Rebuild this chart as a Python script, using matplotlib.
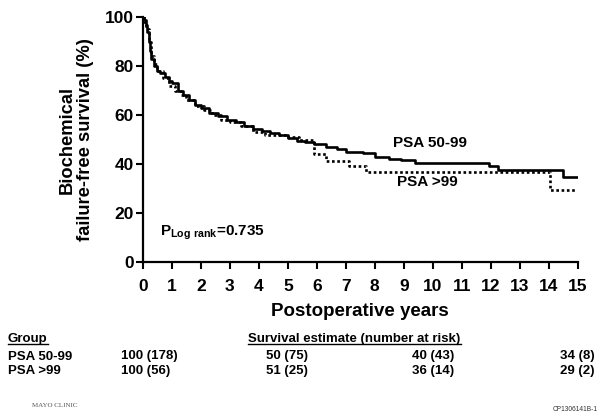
import matplotlib
matplotlib.use("Agg")
import matplotlib.pyplot as plt
from matplotlib.lines import Line2D

plt.rcParams['font.family'] = ['Liberation Sans', 'DejaVu Sans']

# Kaplan-Meier style curves
t_low = [0, 0.05, 0.1, 0.15, 0.2, 0.25, 0.3, 0.4, 0.5, 0.6, 0.75, 0.9, 1.0, 1.2, 1.4, 1.6,
         1.8, 2.0, 2.3, 2.6, 2.9, 3.2, 3.5, 3.8, 4.1, 4.4, 4.7, 5.0, 5.3, 5.6, 5.9, 6.3,
         6.7, 7.0, 7.6, 8.0, 8.5, 8.9, 9.4, 11.95, 12.25, 14.5, 15.0]
s_low = [100, 99, 97, 94, 90, 86, 83, 80, 78, 77, 75.5, 74, 73, 70, 68, 66,
         64, 63, 61, 59.5, 58, 57, 55.5, 54.5, 53.5, 52.5, 52, 50.5, 49.5, 49, 48, 47,
         46, 45, 44.4, 43, 42.2, 41.6, 40.5, 39, 37.5, 34.8, 34.8]

t_high = [0, 0.05, 0.12, 0.2, 0.3, 0.4, 0.5, 0.7, 0.9, 1.1, 1.3, 1.5, 1.8, 2.1, 2.4,
          2.7, 3.0, 3.4, 3.8, 4.2, 4.6, 5.0, 5.4, 5.9, 6.3, 7.1, 7.7, 14.05, 14.95]
s_high = [100, 98, 95, 90, 84, 81, 78, 75, 72, 70, 68, 66, 63.5, 62, 60,
          58, 57, 55.5, 53, 52, 52, 51, 50, 44, 41.2, 39, 36.9, 29.4, 29.4]

x_ticks = list(range(0, 16))
y_ticks = [0, 20, 40, 60, 80, 100]

groups = ["PSA 50-99", "PSA >99"]
risk_low = ["100 (178)", "50 (75)", "40 (43)", "34 (8)"]
risk_high = ["100 (56)", "51 (25)", "36 (14)", "29 (2)"]

fig = plt.figure(figsize=(6, 4.19), dpi=100)
ax = fig.add_axes([0.238, 0.375, 0.725, 0.584])

ax.step(t_low, s_low, where='post', color='black', lw=1.9)
ax.step(t_high, s_high, where='post', color='black', lw=1.9, linestyle=(0, (1, 1)))

ax.set_xlim(0, 15)
ax.set_ylim(0, 100)
ax.set_xticks(x_ticks)
ax.set_yticks(y_ticks)
for s in ['top', 'right']:
    ax.spines[s].set_visible(False)
for s in ['left', 'bottom']:
    ax.spines[s].set_linewidth(1.6)
ax.tick_params(width=1.5, length=5, labelsize=12.5)
ax.tick_params(axis='x', pad=7)
ax.tick_params(axis='y', pad=1.5)
for lab in ax.get_xticklabels() + ax.get_yticklabels():
    lab.set_fontweight('bold')

ax.set_ylabel("Biochemical\nfailure-free survival (%)", fontsize=13.2,
              fontweight='bold', labelpad=8, linespacing=1.1)
ax.set_xlabel("Postoperative years", fontsize=13.5, fontweight='bold', labelpad=7)

ax.text(9.9, 48.5, "PSA 50-99", fontsize=11, fontweight='bold', ha='center', va='center')
ax.text(9.8, 32.5, "PSA >99", fontsize=11, fontweight='bold', ha='center', va='center')
ax.text(0.6, 12, r"P$_{\mathregular{Log\ rank}}$=0.735", fontsize=11, fontweight='bold',
        va='center')

# number-at-risk table
tfont = dict(fontsize=9.5, fontweight='bold')
fig.text(8 / 600, 1 - 339 / 419, "Group", va='center', **tfont)
fig.text(354.5 / 600, 1 - 339 / 419, "Survival estimate (number at risk)", ha='center',
         va='center', **tfont)
row_y = [1 - 356.5 / 419, 1 - 371 / 419]
col_x = [121, 266, 412, 560]
for gy, name, vals in zip(row_y, groups, [risk_low, risk_high]):
    fig.text(8 / 600, gy, name, va='center', **tfont)
    for cx, v in zip(col_x, vals):
        fig.text(cx / 600, gy, v, ha='left', va='center', **tfont)

# underlines
fig.canvas.draw()
r = fig.canvas.get_renderer()
for t in fig.texts[:2]:
    bb = t.get_window_extent(r).transformed(fig.transFigure.inverted())
    fig.add_artist(Line2D([bb.x0, bb.x1], [bb.y0 + 0.003, bb.y0 + 0.003],
                          color='black', lw=1, transform=fig.transFigure))

fig.text(32 / 600, 1 - 405 / 419, "MAYO CLINIC", fontsize=5, color='#555555', va='center',
         family=['Liberation Serif', 'DejaVu Serif'])
fig.text(598 / 600, 1 - 409 / 419, "CP1306141B-1", fontsize=4.8, color='#333333',
         ha='right', va='center')

fig.savefig("out.png", dpi=100)
